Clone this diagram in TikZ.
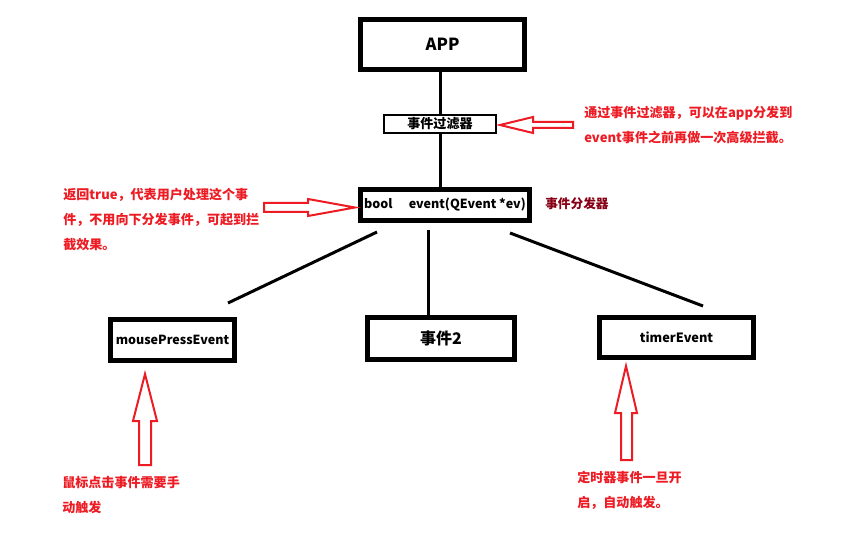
\documentclass[tikz,border=0pt]{standalone}
\usepackage{fontspec}
\setmainfont{Noto Sans CJK SC}
\definecolor{pred}{RGB}{237,28,36}
\definecolor{dred}{RGB}{136,0,21}
\begin{document}
\begin{tikzpicture}[x=0.75pt,y=-0.75pt,
  box/.style={draw=black,line width=3.75pt,inner sep=0pt,font=\bfseries},
  thinbox/.style={draw=black,line width=1.5pt,inner sep=0pt,font=\bfseries},
  conn/.style={draw=black,line width=2.25pt},
  hollow/.style={draw=pred,line width=1.5pt,line join=miter,fill=white},
  note/.style={text=pred,font=\bfseries\fontsize{9.8}{18.75}\selectfont,align=left,anchor=west,inner sep=0pt}]
\useasboundingbox[fill=white] (0,0) rectangle (862,541);

% boxes
\node[box,minimum width=123pt,minimum height=37.5pt,font=\bfseries\fontsize{12.5}{14}\selectfont] (app) at (442.5,44.5) {APP};
\node[thinbox,minimum width=84pt,minimum height=13.5pt,font=\bfseries\fontsize{9.8}{12}\selectfont] (filter) at (440,124) {事件过滤器};
\node[box,minimum width=126.75pt,minimum height=23.25pt,font=\bfseries\fontsize{9.4}{12}\selectfont] (ev) at (445,205) {bool\hspace{1.3em}event(QEvent *ev)};
\node[box,minimum width=93pt,minimum height=30.75pt,font=\bfseries\fontsize{9.4}{12}\selectfont] (mouse) at (172.5,340) {mousePressEvent};
\node[box,minimum width=110.25pt,minimum height=31.5pt,font=\bfseries\fontsize{12}{14}\selectfont] (e2) at (441,338.5) {事件2};
\node[box,minimum width=115.5pt,minimum height=30pt,font=\bfseries\fontsize{9.6}{12}\selectfont] (timer) at (676.5,337.5) {timerEvent};

% connectors
\draw[conn] (filter.north |- app.south) -- (filter.north);
\draw[conn] (filter.south) -- (filter.south |- ev.north);
\coordinate (l1) at (377,232);
\coordinate (l2) at (228,303);
\coordinate (m1) at (428,230);
\coordinate (m2) at (428,315);
\coordinate (r1) at (510,233);
\coordinate (r2) at (703,306);
\draw[conn] (l1) -- (l2);
\draw[conn] (m1) -- (m2);
\draw[conn] (r1) -- (r2);

% hollow red arrows
\draw[hollow] (500,125) -- (533,117) -- (533,122) -- (573,122) -- (573,128) -- (533,128) -- (533,133) -- cycle;
\draw[hollow] (355,207.5) -- (308,199) -- (308,203) -- (264,203) -- (264,212) -- (308,212) -- (308,216) -- cycle;
\draw[hollow] (145,374) -- (133,421) -- (139,421) -- (139,465) -- (151,465) -- (151,421) -- (157,421) -- cycle;
\draw[hollow] (626,366) -- (615,413) -- (621,413) -- (621,460) -- (632,460) -- (632,413) -- (637,413) -- cycle;

% texts
\node[note] (tfilter) at (584,125) {通过事件过滤器，可以在app分发到\\event事件之前再做一次高级拦截。};
\node[note] (tleft) at (63,219.5) {返回true，代表用户处理这个事\\件，不用向下分发事件，可起到拦\\截效果。};
\node[note,text=dred,font=\bfseries\fontsize{9.5}{12}\selectfont] (tdisp) at (545,204) {事件分发器};
\node[note] (tmouse) at (62,495) {鼠标点击事件需要手\\动触发};
\node[note] (ttimer) at (577,490) {定时器事件一旦开\\启，自动触发。};
\end{tikzpicture}
\end{document}
